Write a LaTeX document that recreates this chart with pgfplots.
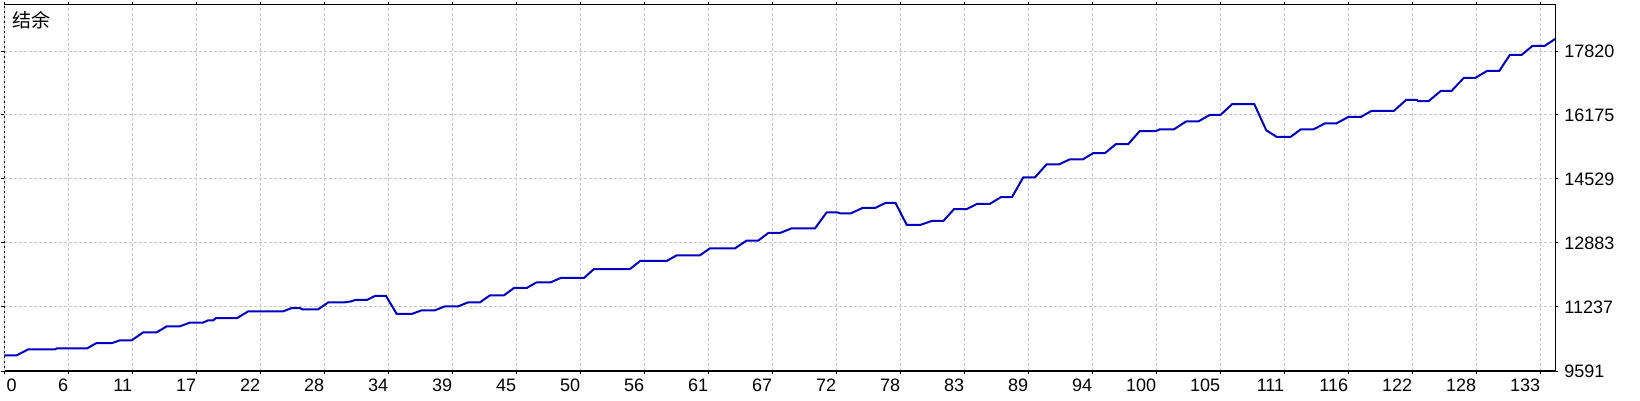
\documentclass[border=0pt]{standalone}
\usepackage{fontspec}
\setmainfont{Liberation Sans}
\newfontfamily\cjk{Noto Sans CJK SC}
\usepackage{pgfplots}
\pgfplotsset{compat=1.18}
\definecolor{balance}{RGB}{0,0,190}
\definecolor{gridgray}{RGB}{200,200,200}

\begin{document}
\begin{tikzpicture}
\path[use as bounding box] (0,0) rectangle (1640pt,400pt);
\begin{axis}[
  at={(4.3pt,29pt)}, anchor=south west,
  scale only axis, width=1550.9pt, height=366.5pt,
  xmin=0, xmax=135, ymin=9591, ymax=19016,
  axis line style={black, line width=1.2pt},
  xtick={5.571,11.142,16.713,22.284,27.855,33.426,38.997,44.568,50.139,55.71,61.281,66.852,72.423,77.994,83.565,89.136,94.707,100.278,105.849,111.42,116.991,122.562,128.133,133.704},
  xticklabels={6,11,17,22,28,34,39,45,50,56,61,67,72,78,83,89,94,100,105,111,116,122,128,133},
  extra x ticks={0}, extra x tick labels={0},
  extra x tick style={xticklabel style={anchor=north west, xshift=2pt}},
  ytick={9591,11237,12883,14529,16175,17820},
  yticklabels={9591,11237,12883,14529,16175,17820},
  yticklabel pos=right,
  tick align=outside, major tick length=3pt,
  tick style={black, line width=1pt},
  grid=major,
  major grid style={gridgray, dash pattern=on 3pt off 2pt, line width=1pt},
  tick label style={font=\fontsize{18}{20}\selectfont, inner sep=0pt},
  xticklabel style={anchor=north east, yshift=-5pt},
  yticklabel style={anchor=west, xshift=6pt},
]
\addplot[balance, line width=2pt, mark=none] coordinates {
(0,9995) (1.08,9995) (2.09,10149) (4.41,10149) (4.59,10175) (7.22,10175)
(8.04,10311) (9.40,10311) (10.07,10381) (11.09,10381) (12.10,10586) (13.27,10586)
(14.14,10741) (15.29,10741) (16.16,10836) (17.32,10836) (17.73,10895) (18.19,10895)
(18.43,10954) (20.28,10954) (21.24,11127) (24.29,11127) (25.02,11211) (25.74,11211)
(25.92,11178) (27.33,11178) (28.20,11358) (29.66,11358) (30.24,11384) (30.53,11417)
(31.55,11417) (32.27,11520) (33.23,11520) (34.16,11057) (35.46,11057) (36.33,11152)
(37.49,11152) (38.36,11255) (39.52,11255) (40.39,11358) (41.41,11358) (42.28,11538)
(43.50,11538) (44.37,11726) (45.47,11726) (46.34,11872) (47.56,11872) (48.43,11983)
(50.46,11983) (51.33,12214) (54.47,12214) (55.34,12420) (57.66,12420) (58.53,12567)
(60.56,12567) (61.43,12747) (63.61,12747) (64.62,12945) (65.63,12945) (66.50,13140)
(67.52,13140) (68.54,13261) (70.57,13261) (71.59,13673) (72.48,13673) (72.75,13647)
(73.70,13647) (74.70,13783) (75.79,13783) (76.71,13912) (77.58,13912) (78.55,13351)
(79.77,13351) (80.73,13449) (81.74,13449) (82.67,13755) (83.78,13755) (84.70,13891)
(85.80,13891) (86.76,14064) (87.72,14064) (88.70,14573) (89.72,14573) (90.72,14902)
(91.78,14902) (92.77,15036) (93.90,15036) (94.79,15195) (95.81,15195) (96.77,15427)
(97.84,15427) (98.83,15761) (100.25,15761) (100.60,15808) (101.82,15808) (102.87,16008)
(103.94,16008) (104.92,16175) (105.88,16180) (106.87,16451) (108.81,16451) (109.85,15782)
(110.76,15610) (111.96,15610) (112.87,15808) (113.98,15808) (114.97,15962) (115.98,15962)
(116.99,16124) (118.08,16124) (119.03,16283) (120.97,16283) (122.04,16566) (122.95,16566)
(123.06,16533) (123.99,16533) (125.06,16798) (125.99,16798) (127.04,17127) (128.03,17127)
(129.07,17307) (130.13,17307) (131.05,17719) (132.07,17719) (133.02,17950) (134.07,17950)
(135.0,18130)
};
\node[anchor=north west, inner sep=0pt, font=\cjk\fontsize{19}{20}\selectfont,
  xshift=8.4pt, yshift=-7pt] at (rel axis cs:0,1) {结余};
\end{axis}
\end{tikzpicture}
\end{document}
